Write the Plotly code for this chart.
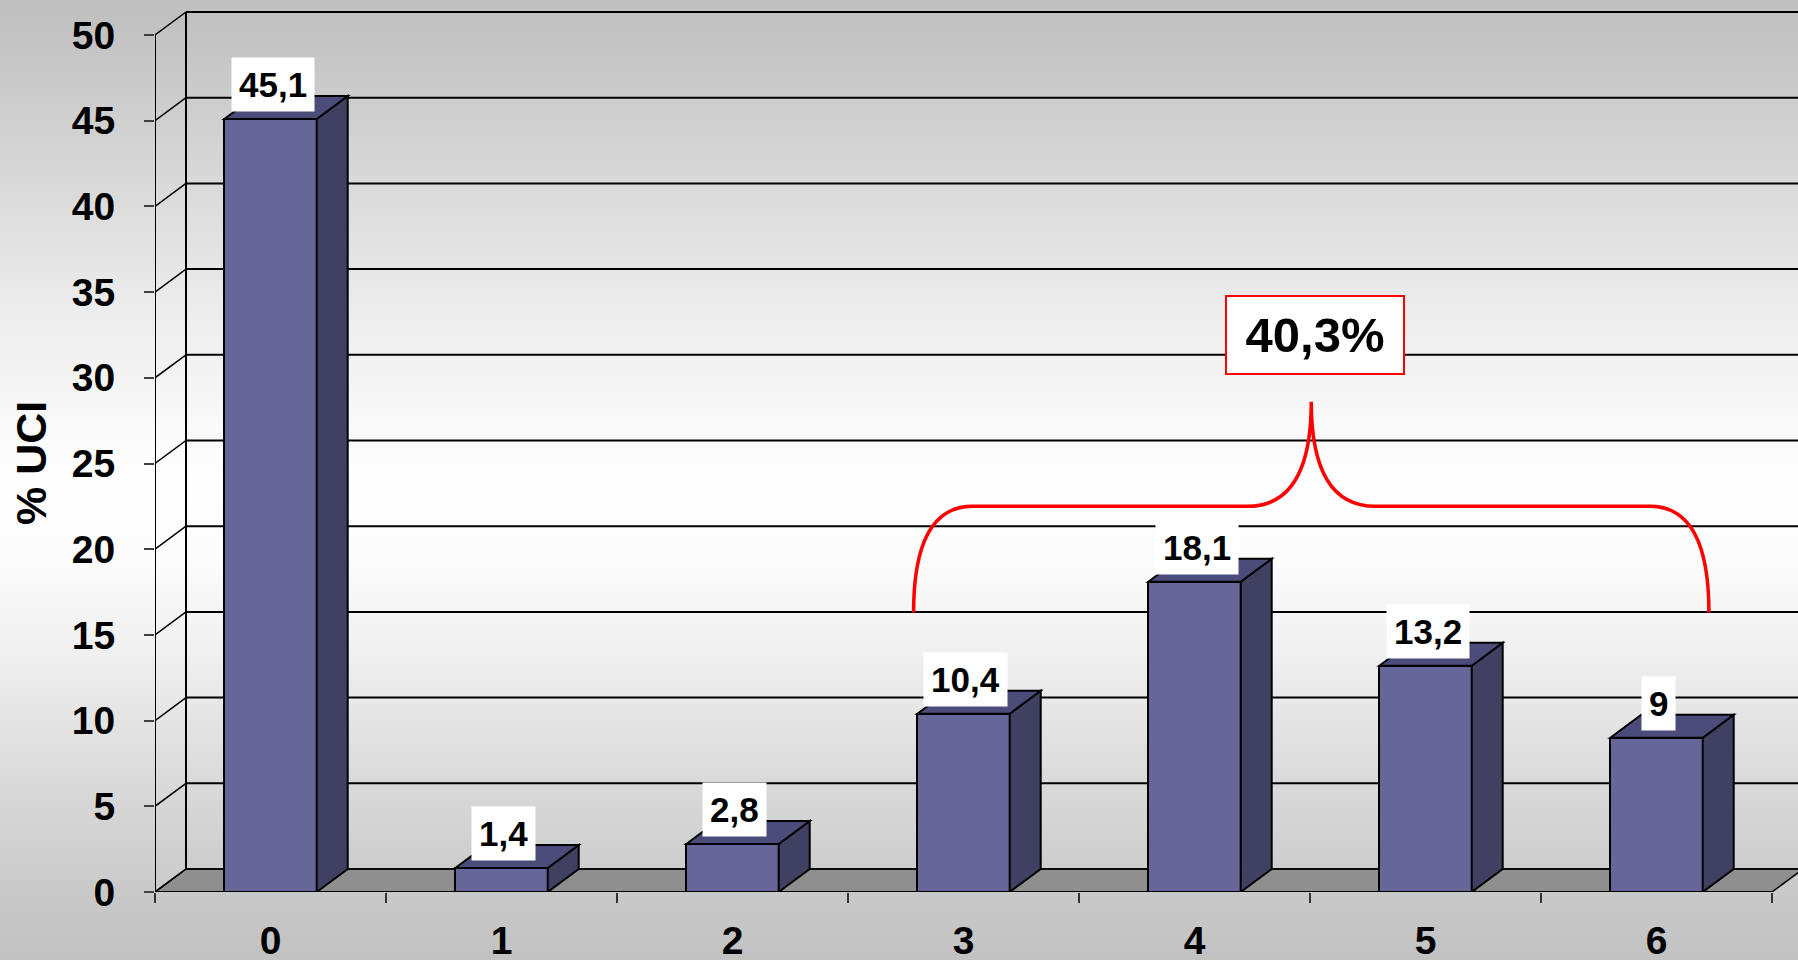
import plotly.graph_objects as go

# ---------------- data ----------------
categories = [0, 1, 2, 3, 4, 5, 6]
category_labels = ["0", "1", "2", "3", "4", "5", "6"]
values = [45.1, 1.4, 2.8, 10.4, 18.1, 13.2, 9]
value_labels = ["45,1", "1,4", "2,8", "10,4", "18,1", "13,2", "9"]
y_ticks = [0, 5, 10, 15, 20, 25, 30, 35, 40, 45, 50]
y_title = "% UCI"
group_label = "40,3%"
group_first, group_last = 3, 6

# ---------------- geometry / style ----------------
W, H = 1798, 960
ML, MR, MT, MB = 155, 0, 0, 68
PLOT_W = W - ML - MR
PLOT_H = H - MT - MB
CAT_PX = 231.0
Y_PX = 17.14
X0 = -0.5
X1 = X0 + PLOT_W / CAT_PX
Y1 = PLOT_H / Y_PX
DX = 31 / CAT_PX          # 3D depth offset (x)
DY = 23 / Y_PX            # 3D depth offset (y)
BAR_W = 0.4
Y_MAX = y_ticks[-1]
X_END = categories[-1] + 0.5

FRONT = "#666699"
SIDE = "#404062"
TOP = "#4c4c7a"
FLOOR = "#8f8f8f"
FONT = "Liberation Sans, Arial, sans-serif"

fig = go.Figure()

fig.add_trace(go.Bar(
    x=categories, y=values, width=BAR_W,
    marker=dict(color=FRONT, line=dict(color="black", width=2)),
    hoverinfo="skip", showlegend=False,
))

shapes = []

# background vertical gradient (paper coords)
stops = [(0, 190), (150, 212), (300, 235), (430, 250), (480, 254), (560, 252),
         (650, 240), (780, 218), (900, 200), (960, 194)]


def gray_at(py):
    for (a, ga), (b, gb) in zip(stops[:-1], stops[1:]):
        if a <= py <= b:
            t = (py - a) / (b - a)
            return int(round(ga + (gb - ga) * t))
    return stops[-1][1]


def py2paper(py):
    return (PLOT_H + MT - py) / PLOT_H


def px2paper(px):
    return (px - ML) / PLOT_W


step = 8
for py in range(0, H, step):
    g = gray_at(py + step / 2)
    shapes.append(dict(type="rect", xref="paper", yref="paper",
                       x0=-ML / PLOT_W - 0.01, x1=1.01,
                       y0=py2paper(py + step + 0.5), y1=py2paper(py),
                       fillcolor=f"rgb({g},{g},{g})", line=dict(width=0),
                       layer="below"))

# floor
shapes.append(dict(type="path", xref="x", yref="y", layer="below",
                   path=f"M {X0},0 L {X_END},0 L {X_END + DX},{DY} L {X0 + DX},{DY} Z",
                   fillcolor=FLOOR, line=dict(color="black", width=1.5)))

# back wall gridlines + slanted side lines
for k in y_ticks:
    shapes.append(dict(type="line", xref="x", yref="y", layer="below",
                       x0=X0 + DX, x1=X1 + 0.2, y0=k + DY, y1=k + DY,
                       line=dict(color="black", width=2 if k > 0 else 1.5)))
    shapes.append(dict(type="line", xref="x", yref="y", layer="below",
                       x0=X0, x1=X0 + DX, y0=k, y1=k + DY,
                       line=dict(color="black", width=1.5)))
shapes.append(dict(type="line", xref="x", yref="y", layer="below",
                   x0=X0 + DX, x1=X0 + DX, y0=DY, y1=Y_MAX + DY,
                   line=dict(color="black", width=2)))
# front y axis line
shapes.append(dict(type="line", xref="x", yref="y", layer="below",
                   x0=X0, x1=X0, y0=0, y1=Y_MAX,
                   line=dict(color="black", width=2)))
# front x axis line
shapes.append(dict(type="line", xref="x", yref="y", layer="above",
                   x0=X0, x1=X_END, y0=0, y1=0,
                   line=dict(color="black", width=2)))

# 3D faces of bars
for c, v in zip(categories, values):
    xl, xr = c - BAR_W / 2, c + BAR_W / 2
    shapes.append(dict(type="path", xref="x", yref="y", layer="above",
                       path=f"M {xr},0 L {xr + DX},{DY} L {xr + DX},{v + DY} L {xr},{v} Z",
                       fillcolor=SIDE, line=dict(color="black", width=2)))
    shapes.append(dict(type="path", xref="x", yref="y", layer="above",
                       path=f"M {xl},{v} L {xl + DX},{v + DY} L {xr + DX},{v + DY} L {xr},{v} Z",
                       fillcolor=TOP, line=dict(color="black", width=2)))

# red curly brace over the grouped categories
bx0 = group_first - BAR_W / 2 - 0.016
bx1 = group_last + BAR_W / 2 + 0.027
bmid = (bx0 + bx1) / 2
by0, byh, bypk = 16.3, 22.5, 28.6
rc, ri = 0.255, 0.277
brace = (f"M {bx0},{by0} Q {bx0},{byh} {bx0 + rc},{byh} "
         f"L {bmid - ri},{byh} Q {bmid},{byh} {bmid},{bypk} "
         f"Q {bmid},{byh} {bmid + ri},{byh} "
         f"L {bx1 - rc},{byh} Q {bx1},{byh} {bx1},{by0}")
shapes.append(dict(type="path", xref="x", yref="y", layer="above",
                   path=brace, line=dict(color="#ff0000", width=3.5)))

annotations = []
for c, v, lab in zip(categories, values, value_labels):
    annotations.append(dict(x=c + 0.01, y=v, xref="x", yref="y", text=lab,
                            showarrow=False, yanchor="bottom", yshift=7,
                            bgcolor="white", borderpad=7,
                            font=dict(family=FONT, size=35, color="black", weight=700)))
annotations.append(dict(x=bmid + 0.018, y=32.5, xref="x", yref="y", text=group_label,
                        showarrow=False, bgcolor="white", bordercolor="#ff0000",
                        borderwidth=2, borderpad=2, width=172, height=72,
                        font=dict(family=FONT, size=49, color="black", weight=700)))
# y axis title
annotations.append(dict(x=px2paper(31), y=py2paper(463), xref="paper", yref="paper",
                        text=y_title, textangle=-90, showarrow=False,
                        xanchor="center", yanchor="middle",
                        font=dict(family=FONT, size=43, color="black", weight=700)))

fig.update_layout(
    width=W, height=H,
    margin=dict(l=ML, r=MR, t=MT, b=MB, autoexpand=False),
    paper_bgcolor="#c8c8c8", plot_bgcolor="rgba(0,0,0,0)",
    shapes=shapes, annotations=annotations,
    bargap=0, showlegend=False,
    xaxis=dict(range=[X0, X1], showgrid=False, zeroline=False, showline=False,
               tickmode="array", tickvals=categories, ticktext=category_labels,
               ticks="", ticklabelstandoff=22,
               tickfont=dict(family=FONT, size=39, color="black", weight=700),
               minor=dict(tickmode="array",
                          tickvals=[c - 0.5 for c in categories] + [X_END],
                          ticks="outside", ticklen=10, tickwidth=1.5, tickcolor="#333333"),
               fixedrange=True),
    yaxis=dict(range=[0, Y1], showgrid=False, zeroline=False, showline=False,
               tickmode="array", tickvals=y_ticks, ticktext=[str(t) for t in y_ticks],
               ticks="outside", ticklen=10, tickwidth=2, tickcolor="#404040",
               ticklabelstandoff=21,
               tickfont=dict(family=FONT, size=39, color="black", weight=700),
               fixedrange=True),
)

fig.write_html("out.html", config={"displayModeBar": False},
               post_script="document.body.style.margin='0';document.body.style.overflow='hidden';")
